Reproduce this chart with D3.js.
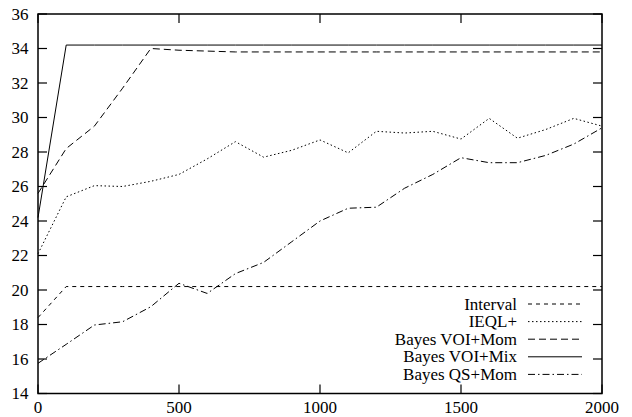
<!DOCTYPE html>
<html><head><meta charset="utf-8">
<script src="https://cdn.jsdelivr.net/npm/d3@7"></script>
<style>body{margin:0;background:#fff}svg{display:block}</style>
</head><body>
<svg id="c" width="632" height="417"></svg>
<script>
const xs = [0,100,200,300,400,500,600,700,800,900,1000,1100,1200,1300,1400,1500,1600,1700,1800,1900,2000];
const interval = [18.4,20.2,20.2,20.2,20.2,20.2,20.2,20.2,20.2,20.2,20.2,20.2,20.2,20.2,20.2,20.2,20.2,20.2,20.2,20.2,20.2];
const ieql = [22.1,25.4,26.05,26.0,26.3,26.7,27.6,28.6,27.7,28.1,28.7,27.95,29.2,29.1,29.2,28.75,29.95,28.8,29.3,29.95,29.5];
const voiMom = [25.6,28.2,29.5,31.7,34.0,33.9,33.85,33.8,33.8,33.8,33.8,33.8,33.8,33.8,33.8,33.8,33.8,33.8,33.8,33.8,33.8];
const voiMix = [24.2,34.2,34.2,34.2,34.2,34.2,34.2,34.2,34.2,34.2,34.2,34.2,34.2,34.2,34.2,34.2,34.2,34.2,34.2,34.2,34.2];
const qsMom = [15.75,16.85,17.97,18.16,19.03,20.39,19.8,20.95,21.6,22.8,24.0,24.74,24.8,25.9,26.7,27.67,27.38,27.38,27.8,28.46,29.4];
const seriesNames = ["Interval","IEQL+","Bayes VOI+Mom","Bayes VOI+Mix","Bayes QS+Mom"];
const xTicks = [0,500,1000,1500,2000];
const yTicks = [14,16,18,20,22,24,26,28,30,32,34,36];

const dashes = ["4,4","1.5,2.5","7,4",null,"7,3,1.5,3"];
const allSeries = [interval, ieql, voiMom, voiMix, qsMom];

const FONT = "Liberation Serif";
const FS = 17;

const svg = d3.select("#c");
const L=38, R=602, T=14, B=393.5;
const x = d3.scaleLinear().domain([0,2000]).range([L,R]);
const y = d3.scaleLinear().domain([14,36]).range([B,T]);
const tl = 9;

const g = svg.append("g");
function txt(sel){ return sel.attr("font-family",FONT).attr("font-size",FS).attr("fill","#000"); }
xTicks.forEach(t=>{
  g.append("line").attr("x1",x(t)).attr("x2",x(t)).attr("y1",B).attr("y2",B-tl).attr("stroke","#000").attr("stroke-width",1.2);
  g.append("line").attr("x1",x(t)).attr("x2",x(t)).attr("y1",T).attr("y2",T+tl).attr("stroke","#000").attr("stroke-width",1.2);
  txt(g.append("text")).attr("x",x(t)).attr("y",B+19.5).attr("text-anchor","middle").text(t);
});
yTicks.forEach(t=>{
  g.append("line").attr("x1",L).attr("x2",L+tl).attr("y1",y(t)).attr("y2",y(t)).attr("stroke","#000").attr("stroke-width",1.2);
  g.append("line").attr("x1",R).attr("x2",R-tl).attr("y1",y(t)).attr("y2",y(t)).attr("stroke","#000").attr("stroke-width",1.2);
  txt(g.append("text")).attr("x",L-9.5).attr("y",y(t)+5.5).attr("text-anchor","end").text(t);
});

const line = d3.line().x((d,i)=>x(xs[i])).y(d=>y(d));
allSeries.forEach((s,k)=>{
  svg.append("path").attr("d",line(s)).attr("fill","none").attr("stroke","#000").attr("stroke-width",1)
    .attr("stroke-dasharray",dashes[k]);
});

const lx = 517, ly0 = 304, ldy = 17.6;
seriesNames.forEach((n,k)=>{
  const yy = ly0 + k*ldy;
  txt(svg.append("text")).attr("x",lx).attr("y",yy+5.5).attr("text-anchor","end").text(n);
  svg.append("line").attr("x1",528).attr("x2",582).attr("y1",yy).attr("y2",yy)
    .attr("stroke","#000").attr("stroke-width",1).attr("stroke-dasharray",dashes[k]);
});

svg.append("rect").attr("x",L).attr("y",T).attr("width",R-L).attr("height",B-T)
  .attr("fill","none").attr("stroke","#000").attr("stroke-width",1.5);
</script>
</body></html>
